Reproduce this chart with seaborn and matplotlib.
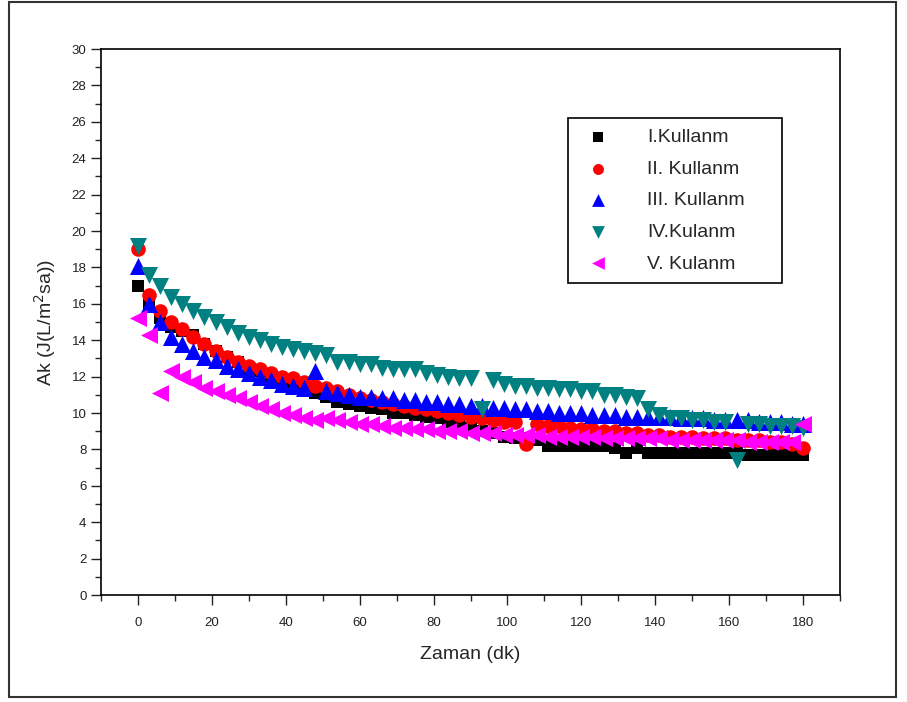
import numpy as np
import pandas as pd
import matplotlib
matplotlib.use("Agg")
import matplotlib.pyplot as plt
import seaborn as sns
from matplotlib.patches import Rectangle
from matplotlib.ticker import MultipleLocator

# time points (dk)
zaman = np.arange(0, 181, 3)

# readings for each use
kullanim_1 = [17.0, 16.0, 15.2, 14.7, 14.5, 14.3, 13.8, 13.4, 13.1, 12.8, 12.5, 12.3, 12.0, 11.8, 11.6,
              11.3, 11.1, 10.9, 10.6, 10.5, 10.4, 10.3, 10.2, 10.0, 10.0, 9.9, 9.8, 9.7, 9.5, 9.3,
              9.2, 9.0, 8.9, 8.7, 8.6, 8.6, 8.5, 8.2, 8.2, 8.2, 8.2, 8.2, 8.2, 8.1, 7.8,
              8.1, 7.8, 7.8, 7.8, 7.8, 7.8, 7.8, 7.8, 7.8, 7.8, 7.7, 7.7, 7.7, 7.7, 7.7, 7.7]
kullanim_2 = [19.0, 16.5, 15.6, 15.0, 14.6, 14.2, 13.8, 13.4, 13.1, 12.8, 12.6, 12.4, 12.2, 12.0, 11.9,
              11.7, 11.5, 11.4, 11.2, 11.0, 10.8, 10.7, 10.6, 10.5, 10.4, 10.3, 10.2, 10.1, 10.0, 9.9,
              9.8, 9.7, 9.6, 9.5, 9.5, 8.3, 9.4, 9.3, 9.3, 9.2, 9.1, 9.1, 9.0, 9.0, 8.9,
              8.9, 8.8, 8.8, 8.7, 8.7, 8.7, 8.6, 8.6, 8.6, 8.5, 8.5, 8.5, 8.4, 8.4, 8.3, 8.1]
kullanim_3 = [18.1, 16.0, 15.0, 14.2, 13.8, 13.4, 13.1, 12.9, 12.6, 12.4, 12.2, 12.0, 11.8, 11.6, 11.5,
              11.4, 12.3, 11.2, 11.1, 11.0, 10.9, 10.9, 10.8, 10.8, 10.7, 10.7, 10.6, 10.6, 10.5, 10.5,
              10.4, 10.4, 10.3, 10.3, 10.2, 10.2, 10.1, 10.1, 10.0, 10.0, 10.0, 9.9, 9.9, 9.9, 9.8,
              9.8, 9.8, 9.8, 9.8, 9.7, 9.7, 9.7, 9.6, 9.6, 9.6, 9.6, 9.5, 9.5, 9.5, 9.4, 9.4]
kullanim_4 = [19.2, 17.6, 17.0, 16.4, 16.0, 15.6, 15.3, 15.0, 14.7, 14.4, 14.2, 14.0, 13.8, 13.6, 13.5,
              13.4, 13.3, 13.2, 12.8, 12.8, 12.7, 12.7, 12.5, 12.4, 12.4, 12.4, 12.2, 12.1, 12.0, 11.9,
              11.9, 10.2, 11.8, 11.6, 11.5, 11.5, 11.4, 11.4, 11.3, 11.3, 11.2, 11.2, 11.0, 11.0, 10.9,
              10.8, 10.2, 9.9, 9.7, 9.7, 9.6, 9.6, 9.5, 9.5, 7.4, 9.4, 9.4, 9.3, 9.3, 9.3, 9.2]
kullanim_5 = [15.2, 14.3, 11.1, 12.3, 12.0, 11.7, 11.4, 11.2, 11.0, 10.8, 10.6, 10.4, 10.2, 10.0, 9.9,
              9.7, 9.6, 9.7, 9.6, 9.5, 9.4, 9.4, 9.3, 9.2, 9.2, 9.1, 9.1, 9.0, 9.0, 9.0,
              8.9, 8.9, 8.9, 8.8, 8.8, 8.8, 8.8, 8.7, 8.7, 8.7, 8.7, 8.7, 8.6, 8.6, 8.6,
              8.6, 8.6, 8.6, 8.5, 8.5, 8.5, 8.5, 8.5, 8.5, 8.5, 8.4, 8.4, 8.4, 8.4, 8.4, 9.4]

etiketler = ["I.Kullanm", "II. Kullanm", "III. Kullanm", "IV.Kulanm", "V. Kulanm"]
renkler = ["#000000", "#ff0000", "#0000ff", "#008080", "#ff00ff"]
isaretler = ["s", "o", "^", "v", "<"]
boyutlar = [85, 110, 150, 150, 150]

df = pd.DataFrame({"Zaman": np.tile(zaman, 5),
                   "Ak": kullanim_1 + kullanim_2 + kullanim_3 + kullanim_4 + kullanim_5,
                   "Seri": np.repeat(etiketler, len(zaman))})

sns.set_style("ticks")
plt.rcParams["font.family"] = ["Liberation Sans", "DejaVu Sans"]

fig = plt.figure(figsize=(9.07, 7.02), dpi=100)
ax = fig.add_axes([101 / 907, 107 / 702, 739 / 907, 546 / 702])

for lbl, c, m, s in zip(etiketler, renkler, isaretler, boyutlar):
    sns.scatterplot(data=df[df.Seri == lbl], x="Zaman", y="Ak", color=c, marker=m,
                    s=s, linewidth=0, label=lbl, ax=ax)

ax.set_xlim(-10, 190)
ax.set_ylim(0, 30)
ax.xaxis.set_minor_locator(MultipleLocator(10))
ax.yaxis.set_major_locator(MultipleLocator(2))
ax.yaxis.set_minor_locator(MultipleLocator(1))
ax.set_xticks(range(0, 181, 20))
ax.tick_params(which="major", length=7, width=1, direction="out", labelsize=9.5, colors="#222222")
ax.tick_params(which="minor", length=4, width=1, direction="out")
ax.tick_params(axis="x", pad=9)
for sp in ax.spines.values():
    sp.set_visible(True)
    sp.set_linewidth(1.2)
    sp.set_color("black")

ax.set_xlabel("Zaman (dk)", fontsize=14, labelpad=12)
ax.set_ylabel("Ak (J(L/m$^2$sa))", fontsize=14, labelpad=10)

leg = ax.legend(loc="upper left", bbox_to_anchor=(0.632, 0.5, 0.2896, 0.374), mode="expand",
                borderaxespad=0, fontsize=14, frameon=True, fancybox=False, edgecolor="black",
                framealpha=1, labelspacing=0.72, handletextpad=1.5, borderpad=0.55, markerscale=0.75)
leg.get_frame().set_linewidth(1.2)

# outer frame
fig.add_artist(Rectangle((9 / 907, 5 / 702), 887 / 907, 695 / 702, transform=fig.transFigure,
                         fill=False, edgecolor="#333333", linewidth=1.5))

plt.savefig("out.png", dpi=100)
plt.close()
